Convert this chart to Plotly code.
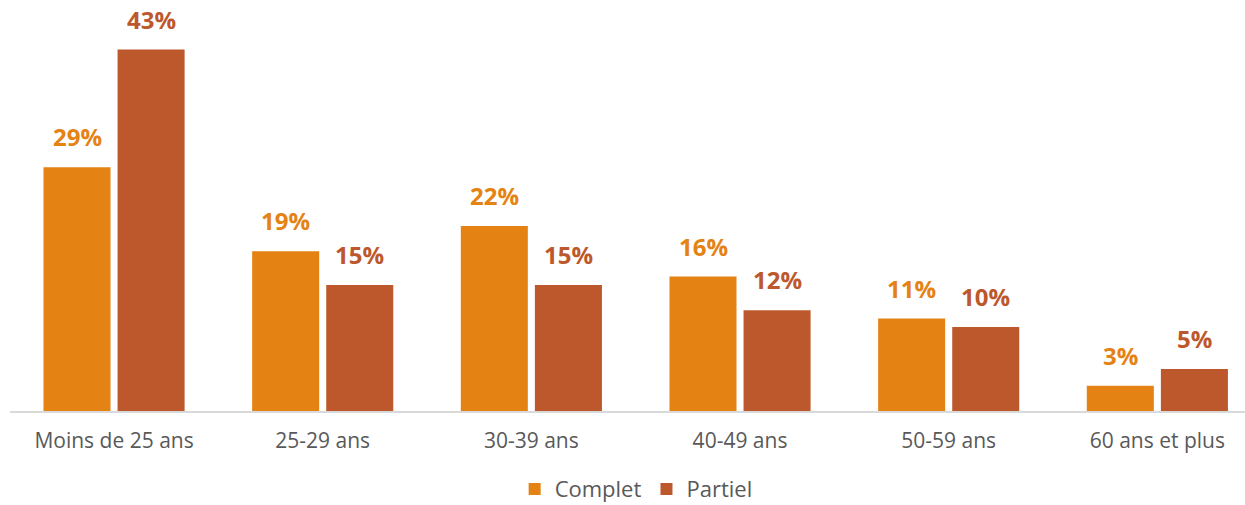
import plotly.graph_objects as go

# Age groups and share of each contract type (%)
categories = ["Moins de 25 ans", "25-29 ans", "30-39 ans", "40-49 ans", "50-59 ans", "60 ans et plus"]
complet = [29, 19, 22, 16, 11, 3]
partiel = [43, 15, 15, 12, 10, 5]

series_names = ["Complet", "Partiel"]
colors = ["#E48314", "#BD582C"]

x_idx = list(range(len(categories)))

fig = go.Figure()
for name, vals, col in zip(series_names, [complet, partiel], colors):
    fig.add_trace(go.Bar(
        name=name,
        x=x_idx,
        y=vals,
        marker=dict(color=col, line=dict(width=0)),
        hoverinfo="skip",
    ))

# Value labels above each bar, offset to sit over their own bar in the group
offsets = [-37, 37]
for vals, col, dx in zip([complet, partiel], colors, offsets):
    for i, v in enumerate(vals):
        fig.add_annotation(
            x=i, y=v, xref="x", yref="y",
            text=f"<b>{v}%</b>",
            showarrow=False,
            xshift=dx, yshift=12,
            yanchor="bottom",
            font=dict(family="Open Sans", size=24, color=col),
        )

fig.update_layout(
    width=1245, height=505,
    margin=dict(l=10, r=0, t=0, b=94, autoexpand=False),
    paper_bgcolor="white",
    plot_bgcolor="white",
    barmode="group",
    bargap=0.29,
    bargroupgap=0.095,
    font=dict(family="Open Sans", color="#595959"),
    legend=dict(
        orientation="h",
        x=0.507, xanchor="center",
        y=-0.19, yanchor="middle",
        font=dict(family="Open Sans", size=22, color="#595959"),
        itemclick=False,
    ),
    showlegend=True,
)

fig.update_xaxes(
    tickmode="array",
    tickvals=x_idx,
    ticktext=categories,
    range=[-0.4986, 5.42],
    showline=True,
    linecolor="#D9D9D9",
    linewidth=2,
    ticks="",
    ticklabelstandoff=10,
    showgrid=False,
    zeroline=False,
    tickfont=dict(family="Open Sans", size=21, color="#595959"),
    fixedrange=True,
)
fig.update_yaxes(
    range=[0, 48.9],
    visible=False,
    showgrid=False,
    zeroline=False,
    fixedrange=True,
)

fig.write_html("out.html", config={"displayModeBar": False})
